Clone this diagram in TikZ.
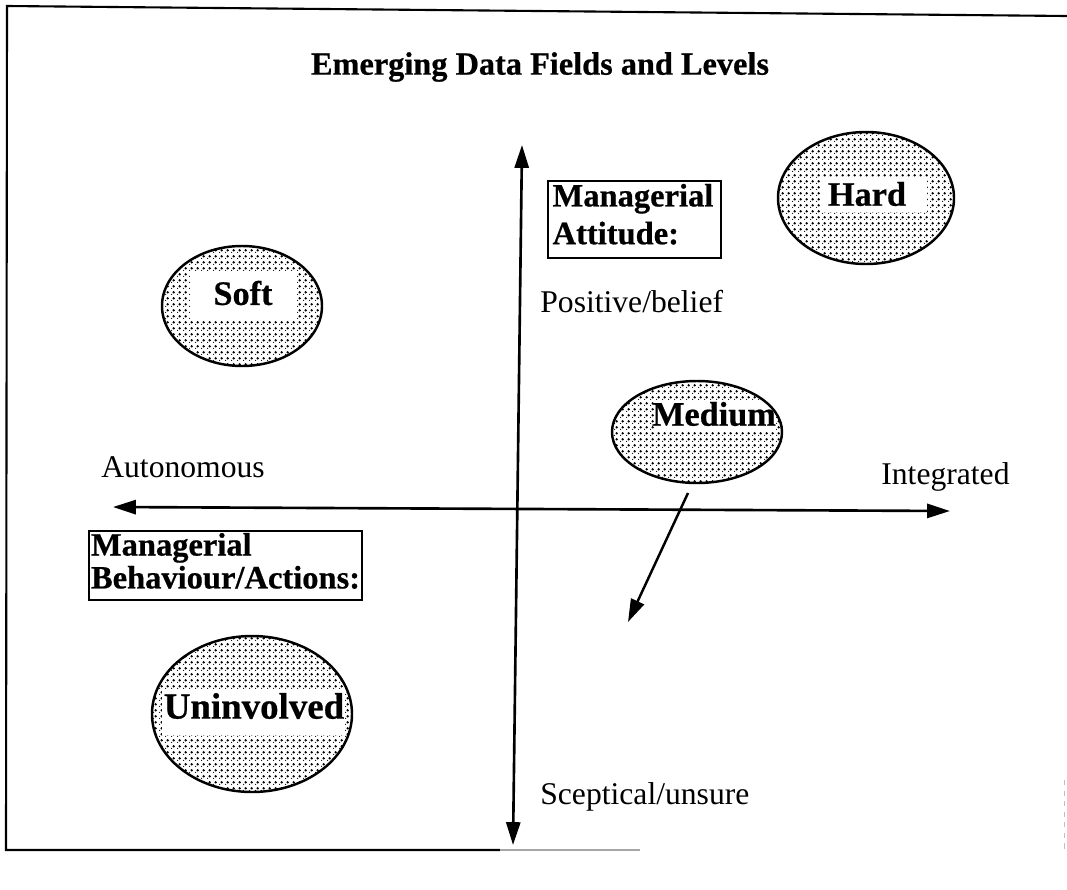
\documentclass[tikz,border=0pt]{standalone}
\usepackage{fontspec}
\setmainfont{Liberation Serif}[BoldFeatures={FakeBold=0.6}]
\usetikzlibrary{arrows.meta,patterns}

% halftone screen used for the shaded ellipses
\pgfdeclarepatternformonly{halftone}{\pgfpointorigin}{\pgfqpoint{3.5pt}{3.5pt}}{\pgfqpoint{3.5pt}{3.5pt}}{%
  \pgfpathcircle{\pgfqpoint{0pt}{0pt}}{.82pt}%
  \pgfpathcircle{\pgfqpoint{1.75pt}{1.75pt}}{.82pt}%
  \pgfusepath{fill}}

\begin{document}
\begin{tikzpicture}[x=0.02cm,y=-0.02cm,
  frame/.style={line width=1.2pt},
  axisline/.style={line width=1.5pt,{Triangle[length=13pt,width=8pt]}-{Triangle[length=13pt,width=8pt]}},
  pointer/.style={line width=1.4pt,-{Triangle[length=13pt,width=8pt]}},
  outline/.style={line width=1.4pt},
  dotted fill/.style={pattern=halftone},
  titlefont/.style={font=\fontsize{18.4}{22}\selectfont\bfseries},
  blobtext/.style={font=\fontsize{19.5}{22}\selectfont\bfseries},
  axistext/.style={font=\fontsize{18}{20}\selectfont,anchor=west,inner sep=0pt},
  panel/.style={draw,line width=1.3pt,anchor=north west,inner sep=0pt},
  paneltext/.style={anchor=north west,align=left,inner sep=0pt}]

\useasboundingbox (0,0) rectangle (1067,889);

% outer frame
\coordinate (ftl) at (7,6);
\coordinate (ftr) at (1067,16);
\coordinate (fbl) at (6,850);
\coordinate (fbm) at (500,850);
\coordinate (fbr) at (640,850);
\draw[frame] (ftr) -- (ftl) -- (fbl) -- (fbm);
\draw[frame,black!35] (fbm) -- (fbr);
\coordinate (rt) at (1064,780);
\coordinate (rb) at (1064,850);
\draw[black!25,dashed,line width=0.5pt] (rt) -- (rb);

% title
\node[titlefont] (title) at (540,67) {Emerging Data Fields and Levels};

% axes
\coordinate (vtop) at (522,145);
\coordinate (vbot) at (513,845);
\draw[axisline] (vtop) -- (vbot);
\coordinate (hleft) at (113,507);
\coordinate (hright) at (950,511);
\draw[axisline] (hleft) -- (hright);

% axis captions
\node[axistext] (pos) at (540,302) {Positive/belief};
\node[axistext] (scep) at (540,797) {Sceptical/unsure};
\node[axistext] (auto) at (101,467) {Autonomous};
\node[axistext] (integ) at (881,477) {Integrated};

% labelled panels
\node[panel,minimum width=173*0.02cm,minimum height=77*0.02cm] (attbox) at (547,180) {};
\node[paneltext,font=\fontsize{18.5}{21.5}\selectfont\bfseries] (atttext) at ([xshift=3pt,yshift=-2pt]attbox.north west) {Managerial\\Attitude:};
\node[panel,minimum width=273*0.02cm,minimum height=69*0.02cm] (behbox) at (88,530) {};
\node[paneltext,font=\fontsize{18.5}{18.7}\selectfont\bfseries] (behtext) at ([xshift=1.5pt,yshift=-1.5pt]behbox.north west) {Managerial\\Behaviour/Actions:};

% shaded ellipses: halftone body, white label strip, outline
\newcommand\blob[8]{%
  \fill[dotted fill] (#1,#2) ellipse [x radius=#3*0.02cm, y radius=#4*0.02cm];
  \begin{scope}
    \clip (#1,#2) ellipse [x radius=#3*0.02cm, y radius=#4*0.02cm];
    \fill[white] (#5,#6) rectangle (#7,#8);
  \end{scope}
  \draw[outline] (#1,#2) ellipse [x radius=#3*0.02cm, y radius=#4*0.02cm];}

\blob{866}{198}{88}{66}{820}{177}{927}{212}
\node[blobtext] (hard) at (867,194) {Hard};
\blob{242}{306}{80}{60}{190}{272}{297}{320}
\node[blobtext] (soft) at (243,293) {Soft};
\blob{697}{432}{85}{51}{655}{400}{774}{432}
\node[blobtext] (medium) at (714,414) {Medium};
\blob{252}{714}{100}{78}{162}{690}{345}{735}
\node[blobtext,font=\fontsize{21}{22}\selectfont\bfseries] (uninv) at (254,706) {Uninvolved};

% drift arrow below the medium ellipse
\coordinate (mstart) at (688,493);
\coordinate (mend) at (628,622);
\draw[pointer] (mstart) -- (mend);

\end{tikzpicture}
\end{document}
